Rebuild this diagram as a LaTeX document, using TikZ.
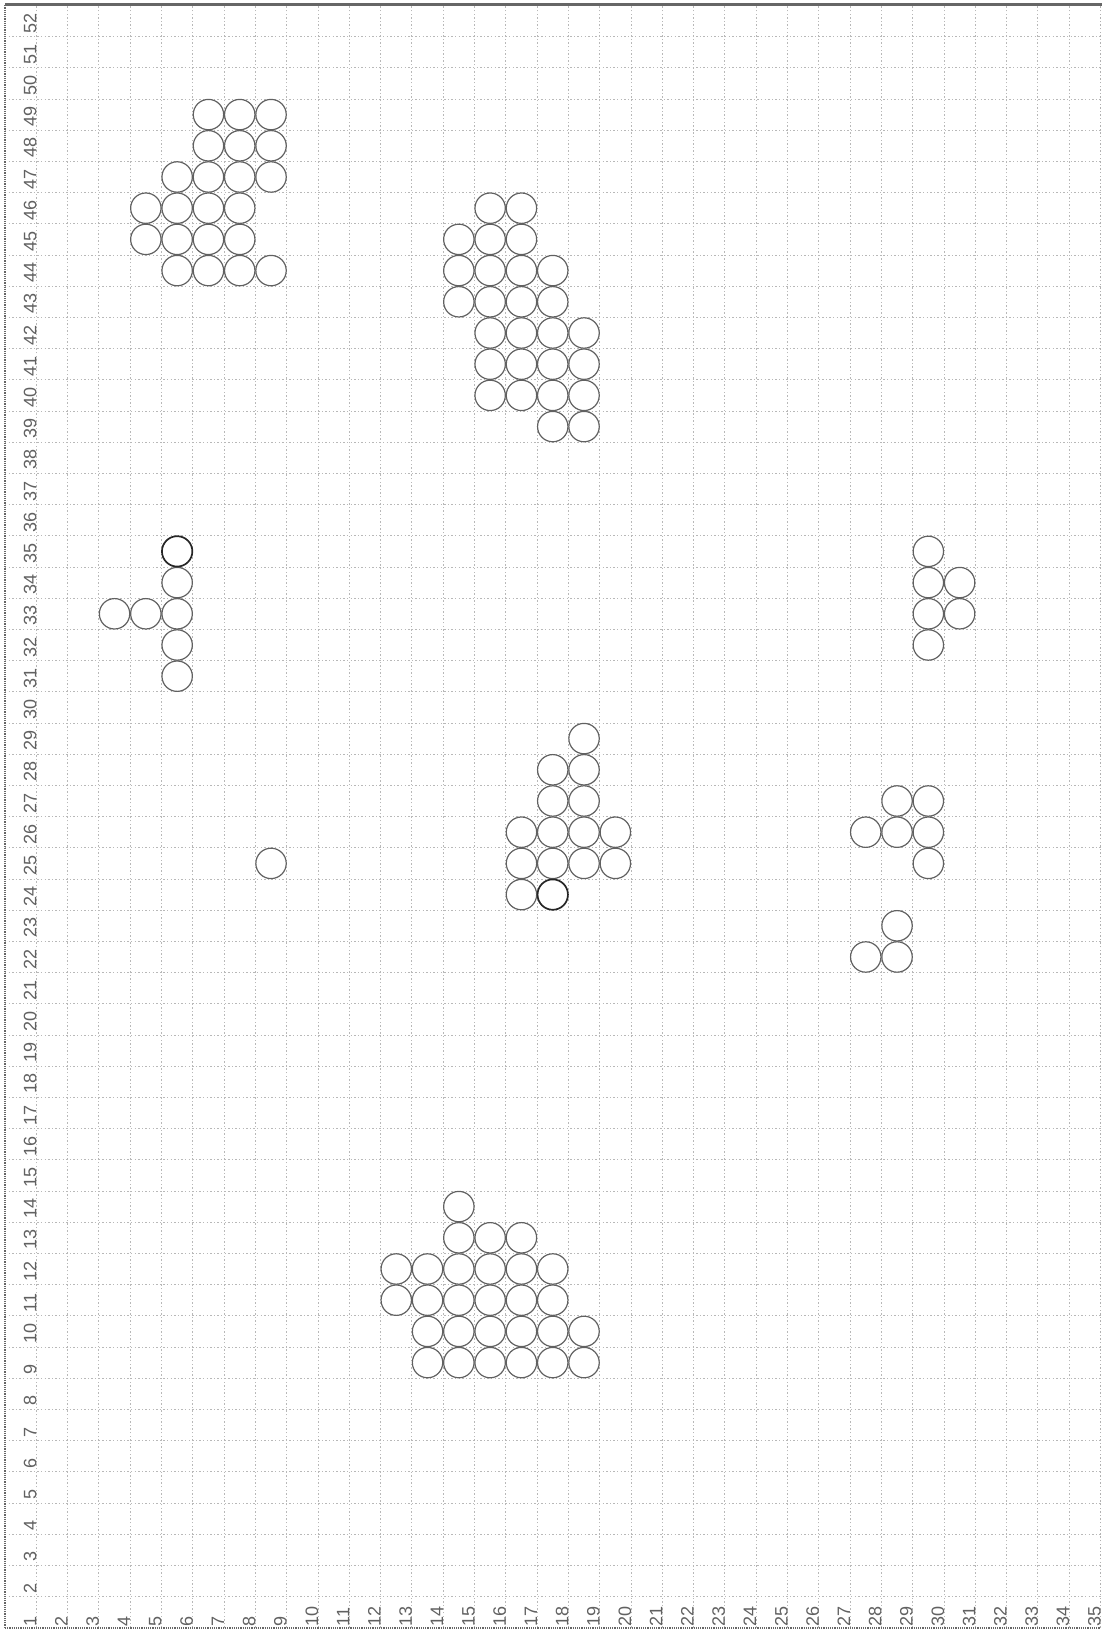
\documentclass[tikz,border=0pt]{standalone}
\usepackage{fontspec}
\setmainfont{Liberation Sans}
\begin{document}
\begin{tikzpicture}[x=15.65pt,y=15.6pt,
  gridline/.style={draw=black!28, line width=0.45pt, dash pattern=on 0.7pt off 1.1pt},
  sideborder/.style={draw=black!60, line width=0.8pt, dash pattern=on 0.6pt off 0.5pt},
  rightborder/.style={draw=black!30, line width=0.5pt, dash pattern=on 0.7pt off 1.1pt},
  topborder/.style={draw=black!60, line width=1.6pt},
  ball/.style={circle, draw=black!62, line width=0.6pt, minimum size=15.2pt, inner sep=0pt},
  balldark/.style={ball, draw=black!85, line width=0.85pt},
  axlabel/.style={rotate=90, anchor=base west, inner sep=1.5pt, font=\fontsize{9}{10}\selectfont, text=black!62}]
\useasboundingbox (0.3403,0.4615) rectangle (35.548,52.673);
% grid
\foreach \c in {1,...,34} \draw[gridline] (\c+0.5,0.5) -- (\c+0.5,52.5);
\foreach \r in {1,...,51} \draw[gridline] (0.5,\r+0.5) -- (35.5,\r+0.5);
% borders
\draw[sideborder] (0.5,0.5) -- (0.5,52.5);
\draw[sideborder] (0.5,0.5) -- (35.5,0.5);
\draw[rightborder] (35.5,0.5) -- (35.5,52.5);
\draw[topborder] (0.5,52.53) -- (35.6,52.53);
% axis labels
\foreach \r in {2,...,52} \node[axlabel] (yl\r) at (1.5,\r-0.5) {\r};
\foreach \c in {1,...,35} \node[axlabel] (xl\c) at (\c+0.5,0.44) {\c};
% circles
\foreach \c/\r in {
  7/49,8/49,9/49, 7/48,8/48,9/48, 6/47,7/47,8/47,9/47,
  5/46,6/46,7/46,8/46, 5/45,6/45,7/45,8/45, 6/44,7/44,8/44,9/44,
  16/46,17/46, 15/45,16/45,17/45, 15/44,16/44,17/44,18/44,
  15/43,16/43,17/43,18/43, 16/42,17/42,18/42,19/42,
  16/41,17/41,18/41,19/41, 16/40,17/40,18/40,19/40, 18/39,19/39,
  6/34,4/33,5/33,6/33,6/32,6/31,
  9/25,
  19/29, 18/28,19/28, 18/27,19/27, 17/26,18/26,19/26,20/26,
  17/25,18/25,19/25,20/25, 17/24,
  30/35, 30/34,31/34, 30/33,31/33, 30/32,
  29/27,30/27, 28/26,29/26,30/26, 30/25,
  29/23, 28/22,29/22,
  15/14, 15/13,16/13,17/13,
  13/12,14/12,15/12,16/12,17/12,18/12,
  13/11,14/11,15/11,16/11,17/11,18/11,
  14/10,15/10,16/10,17/10,18/10,19/10,
  14/9,15/9,16/9,17/9,18/9,19/9}
  \node[ball] (b-\c-\r) at (\c,\r) {};
\node[balldark] (b-6-35) at (6,35) {};
\node[balldark] (b-18-24) at (18,24) {};
\end{tikzpicture}
\end{document}
